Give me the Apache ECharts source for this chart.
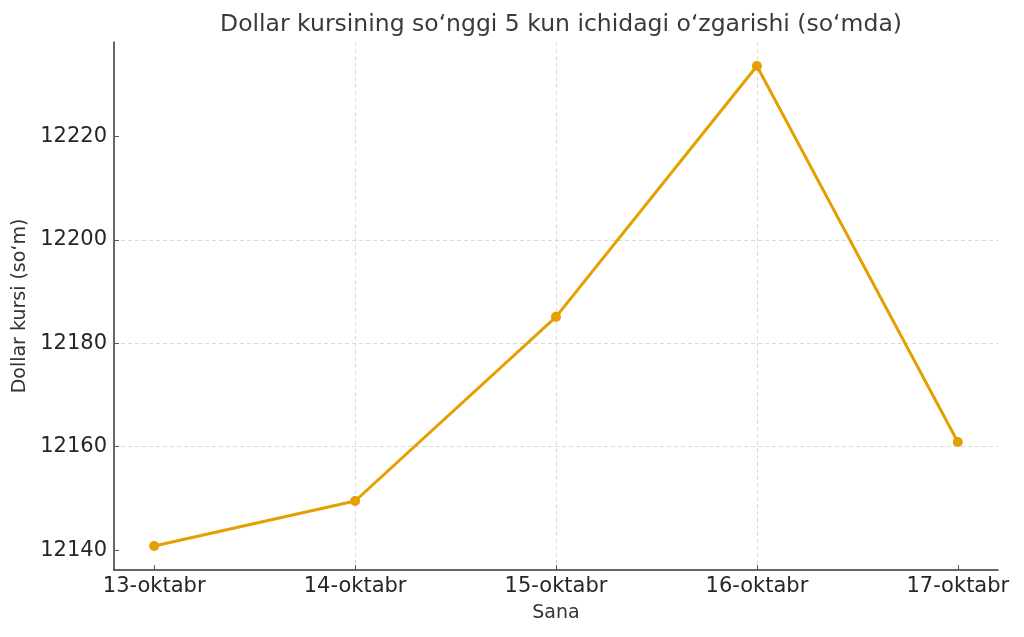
<!DOCTYPE html>
<html>
<head>
<meta charset="utf-8">
<script src="https://cdn.jsdelivr.net/npm/echarts@6/dist/echarts.min.js"></script>
<style>
html,body{margin:0;padding:0;background:#fff;}
#chart{width:1024px;height:637px;}
</style>
</head>
<body>
<div id="chart"></div>
<script>
const categories = ['13-oktabr', '14-oktabr', '15-oktabr', '16-oktabr', '17-oktabr'];
const rates = [12140.8, 12149.5, 12185.1, 12233.6, 12160.9];
const yTicks = [12140, 12160, 12180, 12200, 12220];
const xTicks = [0, 1, 2, 3, 4];

const titleText = 'Dollar kursining so\u2018nggi 5 kun ichidagi o\u2018zgarishi (so\u2018mda)';
const xName = 'Sana';
const yName = 'Dollar kursi (so\u2018m)';

const dMin = Math.min(...rates), dMax = Math.max(...rates);
const pad = (dMax - dMin) * 0.05;
const xPad = (categories.length - 1) * 0.05;

const font = 'DejaVu Sans';
const txt = '#262626';

const chart = echarts.init(document.getElementById('chart'), null, {renderer: 'canvas'});
chart.setOption({
  backgroundColor: '#ffffff',
  animation: false,
  title: {
    text: titleText,
    left: 556, top: 8, textAlign: 'center',
    textStyle: {fontFamily: font, fontSize: 23.5, fontWeight: 'normal', color: '#3a3a3a'}
  },
  grid: {left: 114, right: 26, top: 42, bottom: 67, containLabel: false},
  xAxis: {
    type: 'value',
    min: -xPad, max: categories.length - 1 + xPad,
    splitNumber: 4,
    name: xName, nameLocation: 'middle', nameGap: 34,
    nameTextStyle: {fontFamily: font, fontSize: 19, color: '#333'},
    axisLine: {show: true, onZero: false, lineStyle: {color: '#333', width: 1.5}},
    axisTick: {show: true, inside: true, length: 5, customValues: xTicks, lineStyle: {color: '#555'}},
    axisLabel: {
      customValues: xTicks, margin: 6,
      fontFamily: font, fontSize: 21, color: txt,
      formatter: v => categories[Math.round(v)] || ''
    },
    splitLine: {show: true, showMinLine: false, showMaxLine: false, lineStyle: {color: '#d0d0d0', type: [4, 3], width: 0.8}}
  },
  yAxis: {
    type: 'value',
    min: dMin - pad, max: dMax + pad,
    splitNumber: 5,
    name: yName, nameLocation: 'middle', nameGap: 84,
    nameTextStyle: {fontFamily: font, fontSize: 19, color: '#333'},
    axisLine: {show: true, onZero: false, lineStyle: {color: '#333', width: 1.5}},
    axisTick: {show: true, inside: true, length: 5, customValues: yTicks, lineStyle: {color: '#555'}},
    axisLabel: {customValues: yTicks, margin: 7, fontFamily: font, fontSize: 21, color: txt,
      formatter: v => String(Math.round(v))},
    splitLine: {show: true, showMinLine: false, showMaxLine: false, lineStyle: {color: '#d0d0d0', type: [4, 3], width: 0.8}}
  },
  series: [{
    type: 'line',
    data: rates.map((v, i) => [i, v]),
    symbol: 'circle', symbolSize: 10,
    lineStyle: {color: '#E69F00', width: 3},
    itemStyle: {color: '#E69F00'}
  }]
});
</script>
</body>
</html>
